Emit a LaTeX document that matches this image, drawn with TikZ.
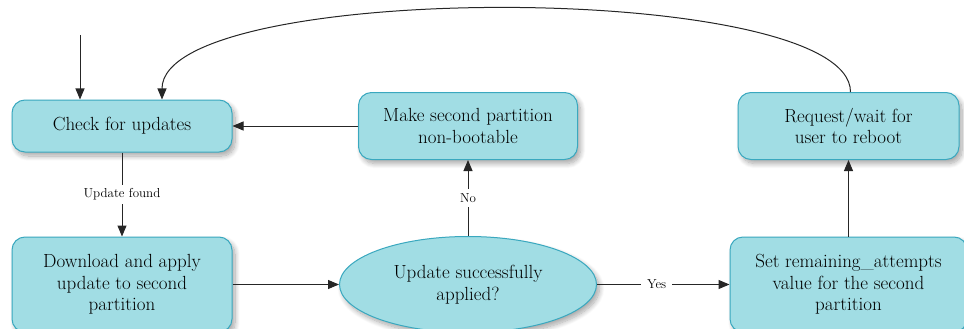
\documentclass[tikz,border=0pt]{standalone}
\usetikzlibrary{shapes.geometric,shadows.blur,arrows.meta}
\definecolor{boxfill}{HTML}{A1DDE4}
\definecolor{boxline}{HTML}{3AA8BF}
\tikzset{
  softshadow/.style={blur shadow={shadow xshift=3pt, shadow yshift=-4pt,
      shadow blur steps=10, shadow blur radius=5pt, shadow opacity=35}},
  stepbox/.style={draw=boxline, fill=boxfill, line width=1pt,
      rounded corners=13pt, align=center, inner sep=0pt,
      font=\fontsize{19}{21.5}\selectfont, softshadow},
  decision/.style={ellipse, draw=boxline, fill=boxfill, line width=1pt,
      align=center, inner sep=0pt, font=\fontsize{19}{21.5}\selectfont, softshadow},
  flow/.style={draw=black!85, line width=1pt, -{Triangle[length=11pt,width=9pt]}},
  edgelabel/.style={fill=white, inner xsep=6pt, inner ysep=4pt,
      font=\fontsize{13}{15}\selectfont}
}
\begin{document}
\begin{tikzpicture}[x=1pt,y=-1pt]
  \useasboundingbox (0,0) rectangle (964,329);

  % process steps
  \node[stepbox, minimum width=220pt, minimum height=52pt] (check) at (122,126)
    {Check for updates};
  \node[stepbox, minimum width=219pt, minimum height=67pt] (make) at (468,126)
    {Make second partition\\non-bootable};
  \node[stepbox, minimum width=221pt, minimum height=67pt] (req) at (848.5,126)
    {Request/wait for\\user to reboot};
  \node[stepbox, minimum width=220pt, minimum height=95pt] (down) at (122,284.5)
    {Download and apply\\update to second\\partition};
  \node[decision, minimum width=257pt, minimum height=96pt] (ok) at (468,284.5)
    {Update successfully\\applied?};
  \node[stepbox, minimum width=237pt, minimum height=95pt] (set) at (848.5,284.5)
    {Set remaining\_attempts\\value for the second\\partition};

  % entry and loop-back points
  \coordinate (entry) at (80,35);
  \coordinate (loopin) at ([xshift=40pt]check.north);

  % connectors
  \draw[flow] (entry) -- (entry |- check.north);
  \draw[flow] ([xshift=2pt]req.north) .. controls +(0,-112) and +(0,-120) .. (loopin);
  \draw[flow] (make.west) -- (check.east);
  \draw[flow] (check.south) -- node[edgelabel] {Update found} (down.north);
  \draw[flow] (down.east) -- (ok.west);
  \draw[flow] (ok.north) -- node[edgelabel] {No} (make.south);
  \draw[flow] (ok.east) -- node[edgelabel, pos=0.45] {Yes} (set.west);
  \draw[flow] (set.north) -- (req.south);
\end{tikzpicture}
\end{document}
